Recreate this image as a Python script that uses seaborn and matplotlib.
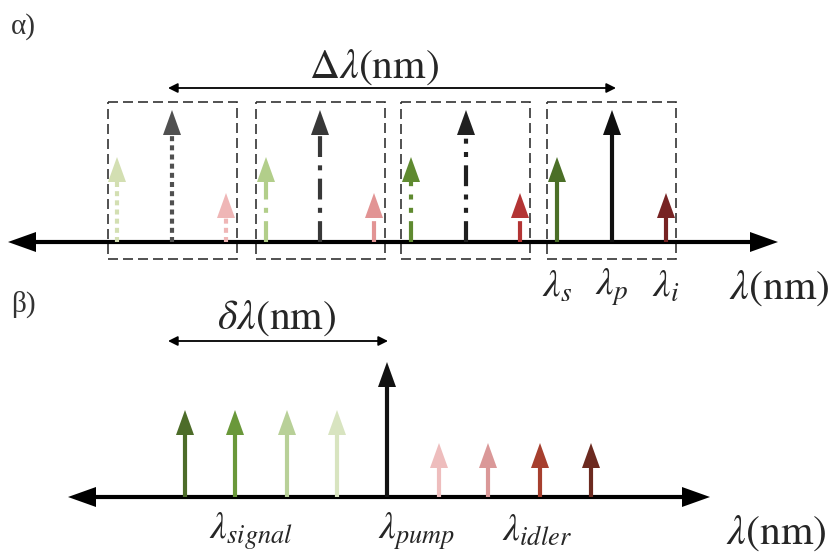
import matplotlib
matplotlib.use("Agg")
import matplotlib.pyplot as plt
from matplotlib.patches import Rectangle
import seaborn as sns

# panel a: four scan windows, each holding signal / pump / idler lines
box_left = [108, 256, 401, 547]
signal_x = [117, 266, 411, 557]
pump_x = [172, 320, 466, 612]
idler_x = [226, 374, 520, 666]
signal_col = ["#d3dfb2", "#b2ce8a", "#5f8a30", "#4b6f27"]
pump_col = ["#505050", "#383838", "#202020", "#101010"]
idler_col = ["#efb6b6", "#e29494", "#b33434", "#772323"]
box_styles = [(0, (1.2, 1.0)), (0, (5, 2, 1.2, 2)), (0, (5, 2, 1.2, 2, 1.2, 2)), "-"]
a_labels = [r"$\lambda_s$", r"$\lambda_p$", r"$\lambda_i$"]

# panel b: signal / pump / idler combs
b_signal_x = [185, 235, 287, 337]
b_signal_col = ["#4d6c29", "#6a983a", "#b8d098", "#d8e4c0"]
b_pump_x = 387
b_idler_x = [439, 488, 540, 591]
b_idler_col = ["#eebdbd", "#da9898", "#a63f2e", "#6c2a20"]
b_labels = [r"$\lambda_{signal}$", r"$\lambda_{pump}$", r"$\lambda_{idler}$"]

sns.set_theme(style="white")
plt.rcParams["font.family"] = ["Liberation Serif", "DejaVu Serif"]
plt.rcParams["mathtext.fontset"] = "stix"

W, H = 834, 553
fig = plt.figure(figsize=(W / 100, H / 100), dpi=100)
ax = fig.add_axes([0, 0, 1, 1])
ax.set_xlim(0, W)
ax.set_ylim(H, 0)
ax.axis("off")


def up_arrow(x, base, tip, color, ls="-", lw=3.0, hw=9, hl=25):
    ax.plot([x, x], [base, tip + hl - 2], color=color, lw=lw, ls=ls,
            solid_capstyle="butt", dash_capstyle="butt")
    ax.fill([x, x - hw, x + hw], [tip, tip + hl, tip + hl], color=color, lw=0)


def axis_line(x0, x1, y):
    ax.plot([x0 + 20, x1 - 20], [y, y], color="black", lw=3)
    ax.fill([x0, x0 + 28, x0 + 28], [y, y - 10, y + 10], color="black", lw=0)
    ax.fill([x1, x1 - 28, x1 - 28], [y, y - 10, y + 10], color="black", lw=0)


# ---- panel a ----
ya = 242
axis_line(8, 778, ya)
for i in range(4):
    ax.add_patch(Rectangle((box_left[i], 102), 129, 157, fill=False,
                           ec="#333333", lw=1.2, ls=(0, (6, 3))))
    up_arrow(signal_x[i], ya, 157, signal_col[i], ls=box_styles[i])
    up_arrow(pump_x[i], ya, 110, pump_col[i], ls=box_styles[i])
    up_arrow(idler_x[i], ya, 193, idler_col[i], ls=box_styles[i])

ax.annotate("", xy=(168, 88), xytext=(616, 88),
            arrowprops=dict(arrowstyle="<|-|>", color="black", lw=1.3,
                            mutation_scale=14, shrinkA=0, shrinkB=0))
ax.text(374, 67, r"$\Delta\lambda\mathrm{(nm)}$", fontsize=30, ha="center", va="center")
ax.text(11, 27, "α)", fontsize=21, ha="left", va="center", color="#333333")
for x, lab in zip([signal_x[3], pump_x[3], idler_x[3]], a_labels):
    ax.text(x, 287, lab, fontsize=28, ha="center", va="center")
ax.text(779, 288, r"$\lambda\mathrm{(nm)}$", fontsize=30, ha="center", va="center")

# ---- panel b ----
yb = 497
axis_line(68, 710, yb)
for x, c in zip(b_signal_x, b_signal_col):
    up_arrow(x, yb, 410, c)
up_arrow(b_pump_x, yb, 362, "#111111")
for x, c in zip(b_idler_x, b_idler_col):
    up_arrow(x, yb, 443, c)

ax.annotate("", xy=(168, 341), xytext=(388, 341),
            arrowprops=dict(arrowstyle="<|-|>", color="black", lw=1.3,
                            mutation_scale=14, shrinkA=0, shrinkB=0))
ax.text(277, 318, r"$\delta\lambda\mathrm{(nm)}$", fontsize=30, ha="center", va="center")
ax.text(11, 304, "β)", fontsize=21, ha="left", va="center", color="#333333")
for x, lab in zip([251, 417, 537], b_labels):
    ax.text(x, 531, lab, fontsize=27, ha="center", va="center")
ax.text(776, 533, r"$\lambda\mathrm{(nm)}$", fontsize=30, ha="center", va="center")

fig.savefig("out.png", dpi=100)
